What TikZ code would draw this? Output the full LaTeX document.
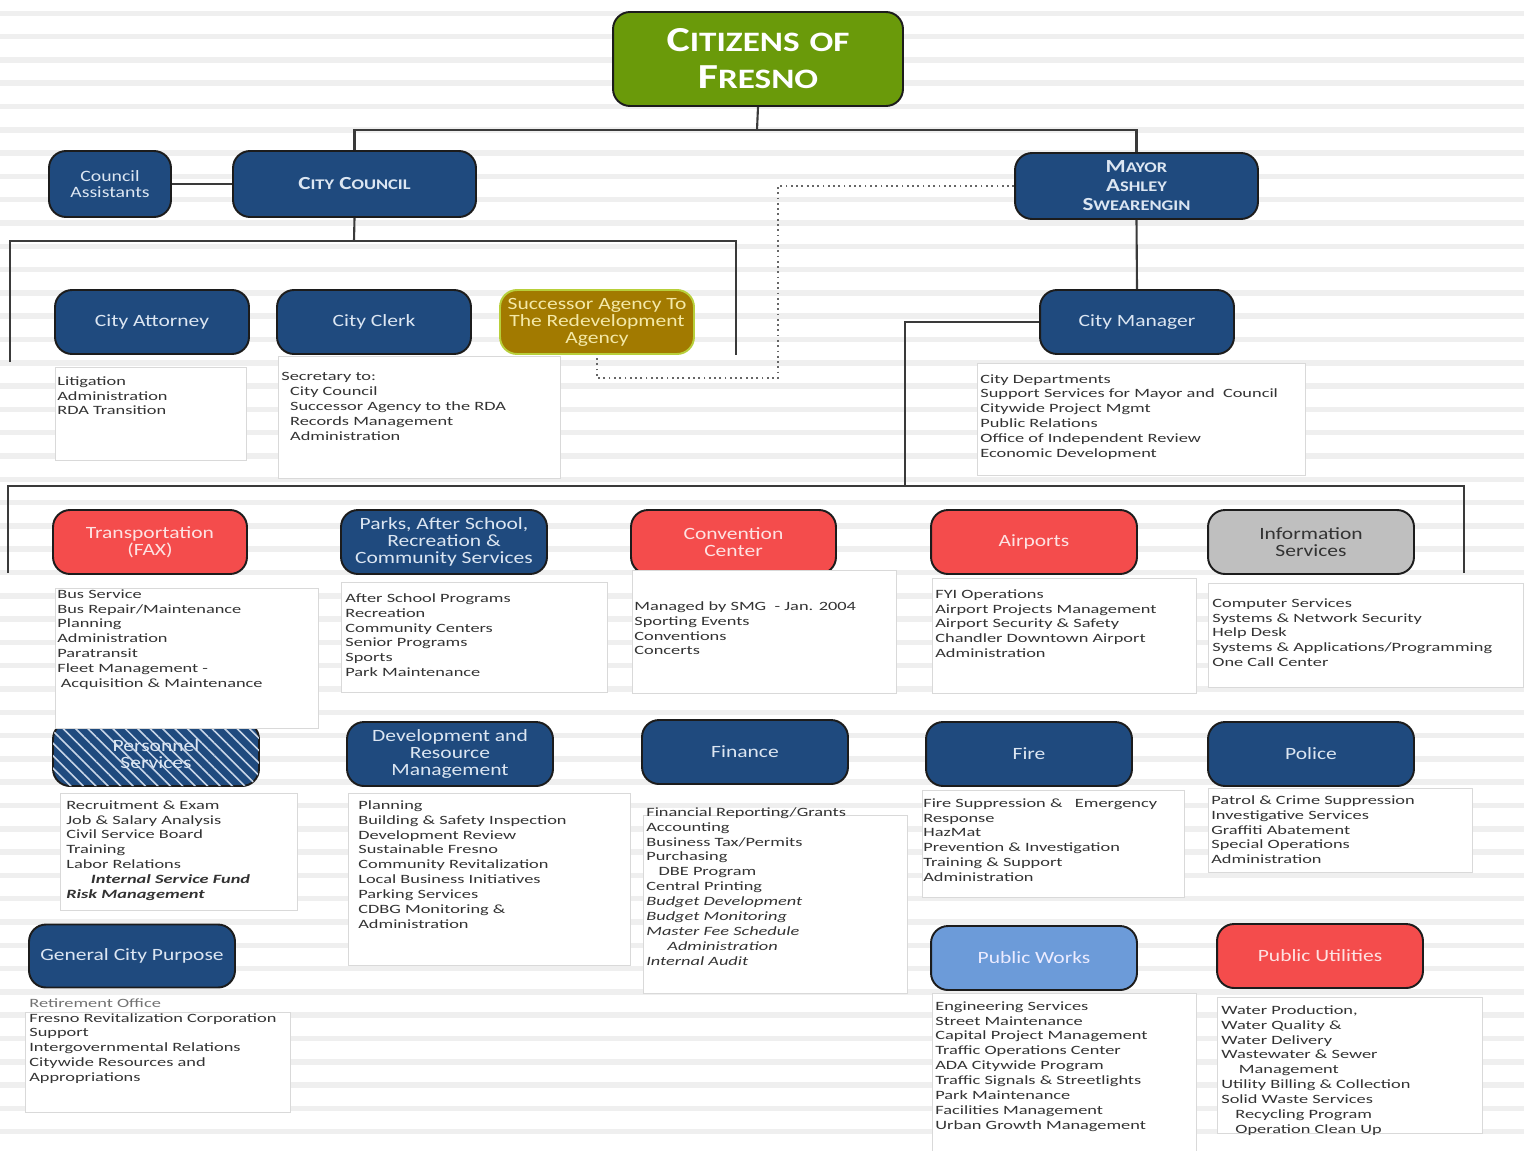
\documentclass[tikz,border=0pt]{standalone}
\usepackage{fontspec}
\setmainfont{Carlito}
\newfontfamily\bfam[FakeStretch=1.25]{Carlito}
\newfontfamily\lfam[FakeStretch=1.45]{Carlito}
\usetikzlibrary{patterns.meta}
\definecolor{dkblue}{HTML}{1F4A7E}
\definecolor{redbox}{HTML}{F44C4C}
\definecolor{grn}{HTML}{6A9A0A}
\definecolor{olive}{HTML}{A27A00}
\definecolor{oliveedge}{HTML}{B8CF3A}
\definecolor{ltblue}{HTML}{6C9BD9}
\definecolor{grybox}{HTML}{BFBFBF}
\definecolor{edgec}{HTML}{1C1C1C}
\definecolor{conncol}{HTML}{3A3A3A}
\definecolor{stripec}{HTML}{EFEFEF}
\definecolor{txtlt}{HTML}{DCE6F2}
\definecolor{txtred}{HTML}{FDE2E2}
\definecolor{txtyel}{HTML}{F4E9A8}
\definecolor{txtlist}{HTML}{333333}
\definecolor{hatchc}{HTML}{C9D6E8}
\newcommand\tsc[2]{{\fontsize{20}{21}\selectfont #1}{\fontsize{16}{21}\selectfont #2}}
\newcommand\lsc[2]{{\fontsize{10.5}{10.8}\selectfont #1}{\fontsize{8.4}{10.8}\selectfont #2}}
\begin{document}
\begin{tikzpicture}[x=0.02cm,y=-0.02cm,
  dept/.style={draw=edgec, line width=1.1pt, rounded corners=0.34cm,
    minimum width=4.12cm, minimum height=1.28cm, align=center, inner sep=1pt,
    font=\bfam\fontsize{9.8}{9.7}\selectfont},
  blue/.style={dept, fill=dkblue, text=txtlt},
  red/.style={dept, fill=redbox, text=txtred},
  lbox/.style={draw=black!15, line width=0.6pt, fill=white, inner sep=0pt, anchor=north west},
  ltext/.style={anchor=north west, align=left, inner sep=0pt, text=txtlist,
    font=\lfam\fontsize{7.2}{8.5}\selectfont},
  conn/.style={draw=conncol, line width=1.2pt},
  dotline/.style={draw=black!60, line width=1pt, dotted}]
\fill[white] (0,0) rectangle (1524,1150);
\useasboundingbox (0,0) rectangle (1524,1150);
\foreach \i in {0,...,49} {\fill[stripec] (0,{10.5+\i*23.3}) rectangle (1524,{16+\i*23.3});}

% top level
\node[dept, fill=grn, text=white, minimum width=5.8cm, minimum height=1.88cm,
  font=\bfam\bfseries\fontsize{20}{21}\selectfont] (citizens) at (758,59)
  {\tsc{C}{ITIZENS} \tsc{}{OF}\\\tsc{F}{RESNO}};
\node[blue, minimum width=2.44cm, minimum height=1.32cm, font=\bfam\fontsize{9}{9.2}\selectfont] (assist) at (110,184) {Council\\Assistants};
\node[blue, minimum width=4.86cm, minimum height=1.32cm, font=\bfam\bfseries\fontsize{10.5}{10.8}\selectfont] (council) at (354.5,184) {\lsc{C}{ITY} \lsc{C}{OUNCIL}};
\node[blue, minimum width=4.86cm, minimum height=1.32cm, font=\bfam\bfseries\fontsize{10.5}{10.8}\selectfont] (mayor) at (1136.5,186) {\lsc{M}{AYOR}\\\lsc{A}{SHLEY}\\\lsc{S}{WEARENGIN}};

\node[blue, minimum width=3.88cm] (attorney) at (152,322) {City Attorney};
\node[blue, minimum width=3.88cm] (clerk) at (374,322) {City Clerk};
\node[dept, draw=oliveedge, fill=olive, text=txtyel, minimum width=3.88cm] (successor) at (597,322) {Successor Agency To\\The Redevelopment\\Agency};
\node[blue, minimum width=3.88cm] (manager) at (1137,322) {City Manager};

% row 3
\node[red, minimum width=3.88cm] (transport) at (150,542) {Transportation\\(FAX)};
\node[blue] (parks) at (444,542) {Parks, After School,\\Recreation \&\\Community Services};
\node[red, minimum width=4.1cm] (convention) at (733.5,542) {Convention\\Center};
\node[red] (airports) at (1034,542) {Airports};
\node[dept, fill=grybox, text=black!80] (info) at (1311,542) {Information\\Services};

% row 4
\node[blue, postaction={pattern={Lines[angle=-45,distance=5pt,line width=0.9pt]}, pattern color=hatchc}] (personnel) at (156,754) {Personnel\\Services};
\node[blue] (dev) at (450,754) {Development and\\Resource\\Management};
\node[blue] (finance) at (745,752) {Finance};
\node[blue] (fire) at (1029,754) {Fire};
\node[blue] (police) at (1311,754) {Police};

% row 5
\node[blue, minimum height=1.26cm] (general) at (132,956) {General City Purpose};
\node[dept, fill=ltblue, text=white!92!blue] (publicworks) at (1034,958) {Public Works};
\node[red] (utilities) at (1320,956) {Public Utilities};

% connectors
\coordinate (bus1) at (757,130);
\draw[conn] (citizens.south) -- (bus1);
\draw[conn] (council.north) |- (bus1) -| (mayor.north);
\draw[conn] (assist.east) -- (council.west);
\coordinate (cbar) at (354,241);
\coordinate (cbL) at (10,362);
\coordinate (cbR) at (736,355);
\draw[conn] (council.south) -- (cbar);
\draw[conn] (cbL) |- (cbar) -| (cbR);
\draw[conn] (mayor.south) -- (manager.north);
\coordinate (dA) at (778,378);
\draw[dotline] (mayor.west) -| (dA) -| (successor.south);
\coordinate (mbar) at (905,486);
\coordinate (bL) at (8,573);
\coordinate (bR) at (1464,573);
\draw[conn] (manager.west) -| (mbar);
\draw[conn] (bL) |- (mbar) -| (bR);

% lists
\node[lbox, minimum width=3.82cm, minimum height=1.86cm] (attB) at (55,367) {};
\node[ltext] (attT) at (57,376) {Litigation\\Administration\\RDA Transition};

\node[lbox, minimum width=5.64cm, minimum height=2.44cm] (clerkB) at (278,356) {};
\node[ltext] (clerkT) at (281,372) {Secretary to:\\\hspace*{5pt}City Council\\\hspace*{5pt}Successor Agency to the RDA\\\hspace*{5pt}Records Management\\\hspace*{5pt}Administration};

\node[lbox, minimum width=6.56cm, minimum height=2.24cm] (mgrB) at (977,363) {};
\node[ltext] (mgrT) at (980,374) {City Departments\\Support Services for Mayor and\ \ Council\\Citywide Project Mgmt\\Public Relations\\Office of Independent Review\\Economic Development};

\node[lbox, minimum width=5.26cm, minimum height=2.8cm] (transB) at (55,588) {};
\node[ltext] (transT) at (57,589) {Bus Service\\Bus Repair/Maintenance\\Planning\\Administration\\Paratransit\\Fleet Management -\\\hspace*{2pt}Acquisition \& Maintenance};

\node[lbox, minimum width=5.32cm, minimum height=2.2cm] (parksB) at (341,582) {};
\node[ltext] (parksT) at (345,593) {After School Programs\\Recreation\\Community Centers\\Senior Programs\\Sports\\Park Maintenance};

\node[lbox, minimum width=5.28cm, minimum height=2.46cm] (convB) at (632,570) {};
\node[ltext] (convT) at (634,601) {Managed by SMG\ \ - Jan. 2004\\Sporting Events\\Conventions\\Concerts};

\node[lbox, minimum width=5.28cm, minimum height=2.3cm] (airB) at (932,578) {};
\node[ltext] (airT) at (935,589) {FYI Operations\\Airport Projects Management\\Airport Security \& Safety\\Chandler Downtown Airport\\Administration};

\node[lbox, minimum width=6.3cm, minimum height=2.08cm] (infoB) at (1208,583) {};
\node[ltext] (infoT) at (1212,598) {Computer Services\\Systems \& Network Security\\Help Desk\\Systems \& Applications/Programming\\One Call Center};

\node[lbox, minimum width=4.74cm, minimum height=2.34cm] (persB) at (60,793) {};
\node[ltext] (persT) at (66,800) {Recruitment \& Exam\\Job \& Salary Analysis\\Civil Service Board\\Training\\Labor Relations\\\hspace*{14pt}\textbf{\textit{Internal Service Fund}}\\\textbf{\textit{Risk Management}}};

\node[lbox, minimum width=5.64cm, minimum height=3.44cm] (devB) at (348,793) {};
\node[ltext] (devT) at (358,800) {Planning\\Building \& Safety Inspection\\Development Review\\Sustainable Fresno\\Community Revitalization\\Local Business Initiatives\\Parking Services\\CDBG Monitoring \&\\Administration};

\node[lbox, minimum width=5.28cm, minimum height=3.56cm] (finB) at (643,815) {};
\node[ltext] (finT) at (646,807) {Financial Reporting/Grants\\Accounting\\Business Tax/Permits\\Purchasing\\\hspace*{7pt}DBE Program\\Central Printing\\\textit{Budget Development}\\\textit{Budget Monitoring}\\\textit{Master Fee Schedule}\\\hspace*{12pt}\textit{Administration}\\\textit{Internal Audit}};

\node[lbox, minimum width=5.24cm, minimum height=2.14cm] (fireB) at (922,790) {};
\node[ltext] (fireT) at (923,798) {Fire Suppression \&\ \ \ Emergency\\Response\\HazMat\\Prevention \& Investigation\\Training \& Support\\Administration};

\node[lbox, minimum width=5.28cm, minimum height=1.68cm] (polB) at (1208,788) {};
\node[ltext] (polT) at (1211,795) {Patrol \& Crime Suppression\\Investigative Services\\Graffiti Abatement\\Special Operations\\Administration};

\node[lbox, minimum width=5.3cm, minimum height=2.0cm] (genB) at (25,1012) {};
\node[ltext] (genT) at (29,998) {\textcolor{black!55}{Retirement Office}\\Fresno Revitalization Corporation\\Support\\Intergovernmental Relations\\Citywide Resources and\\Appropriations};

\node[lbox, minimum width=5.28cm, minimum height=3.2cm] (pwB) at (932,993) {};
\node[ltext] (pwT) at (935,1001) {Engineering Services\\Street Maintenance\\Capital Project Management\\Traffic Operations Center\\ADA Citywide Program\\Traffic Signals \& Streetlights\\Park Maintenance\\Facilities Management\\Urban Growth Management};

\node[lbox, minimum width=5.3cm, minimum height=2.72cm] (puB) at (1217,997) {};
\node[ltext] (puT) at (1221,1005) {Water Production,\\Water Quality \&\\Water Delivery\\Wastewater \& Sewer\\\hspace*{10pt}Management\\Utility Billing \& Collection\\Solid Waste Services\\\hspace*{8pt}Recycling Program\\\hspace*{8pt}Operation Clean Up};
\end{tikzpicture}
\end{document}
